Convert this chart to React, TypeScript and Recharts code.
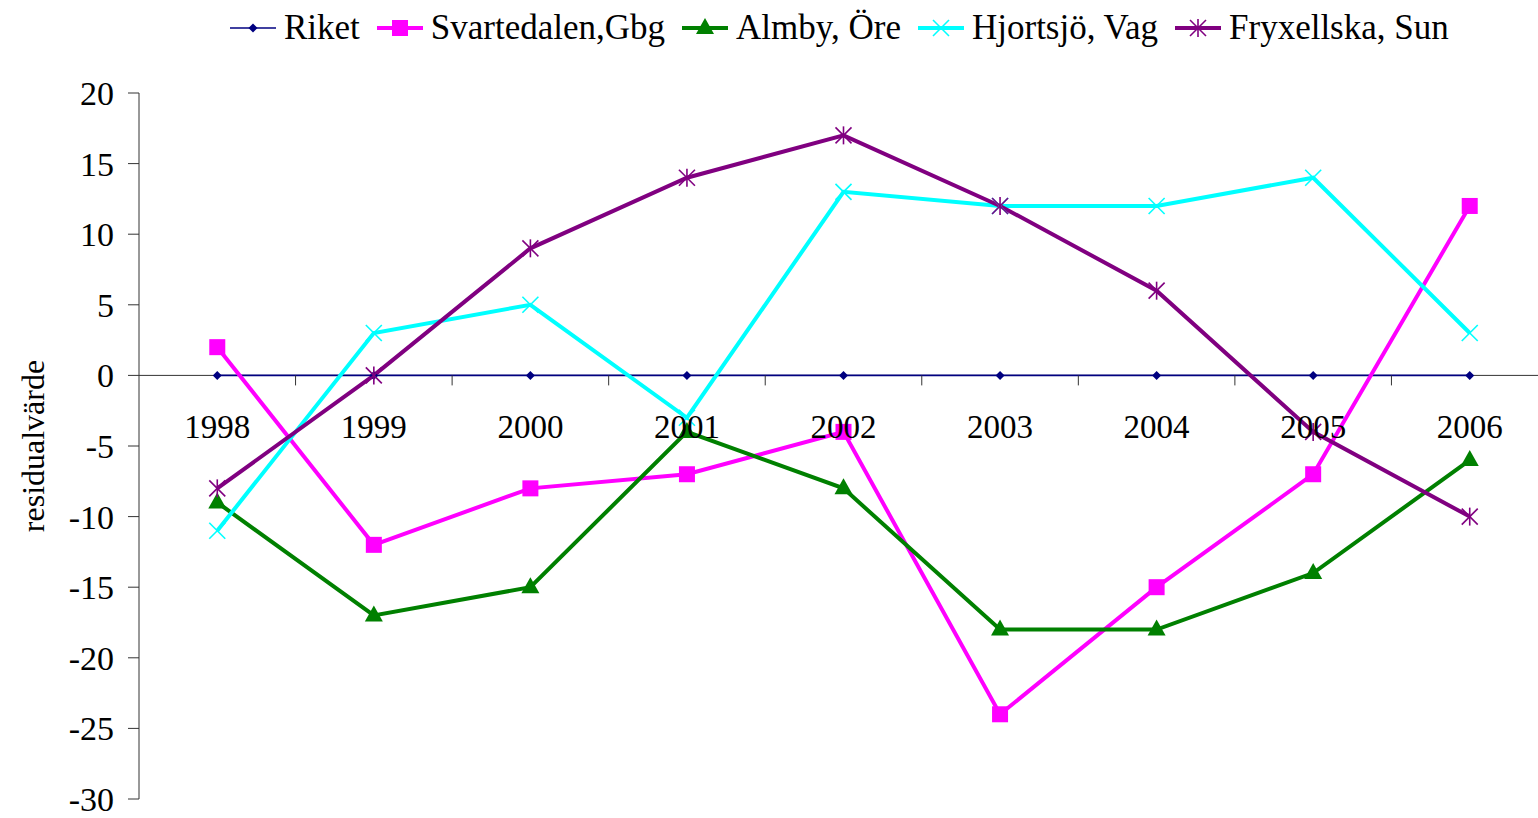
import React from "react";
import { LineChart, Line, XAxis, YAxis, ReferenceLine } from "recharts";

const YEARS = ["1998", "1999", "2000", "2001", "2002", "2003", "2004", "2005", "2006"];
const RIKET = [0, 0, 0, 0, 0, 0, 0, 0, 0];
const SVARTEDALEN = [2, -12, -8, -7, -4, -24, -15, -7, 12];
const ALMBY = [-9, -17, -15, -4, -8, -18, -18, -14, -6];
const HJORTSJO = [-11, 3, 5, -3, 13, 12, 12, 14, 3];
const FRYXELLSKA = [-8, 0, 9, 14, 17, 12, 6, -4, -10];
const Y_TICKS = [-30, -25, -20, -15, -10, -5, 0, 5, 10, 15, 20];

const FONT = "'Liberation Serif', 'Times New Roman', serif";
const W = 1560;
const H = 818;
const M = { top: 93, right: 12, bottom: 18, left: 0 };
const Y_AXIS_W = 139;
const X_AXIS_H = 1;
const Y_MIN = -30;
const Y_MAX = 20;

const data = YEARS.map((year, i) => ({
  year,
  riket: RIKET[i],
  svart: SVARTEDALEN[i],
  almby: ALMBY[i],
  hjort: HJORTSJO[i],
  fryx: FRYXELLSKA[i],
}));

type MarkerKind = "diamond" | "square" | "triangle" | "cross" | "star";

function Marker({ kind, cx, cy, color }: { kind: MarkerKind; cx: number; cy: number; color: string }) {
  if (cx == null || cy == null) return null;
  switch (kind) {
    case "diamond":
      return <path d={`M${cx},${cy - 4.5}L${cx + 4.5},${cy}L${cx},${cy + 4.5}L${cx - 4.5},${cy}Z`} fill={color} />;
    case "square":
      return <rect x={cx - 8} y={cy - 8} width={16} height={16} fill={color} />;
    case "triangle":
      return <path d={`M${cx},${cy - 10}L${cx + 9},${cy + 6}L${cx - 9},${cy + 6}Z`} fill={color} />;
    case "cross":
      return (
        <g stroke={color} strokeWidth={1.6}>
          <line x1={cx - 8} y1={cy - 8} x2={cx + 8} y2={cy + 8} />
          <line x1={cx - 8} y1={cy + 8} x2={cx + 8} y2={cy - 8} />
        </g>
      );
    case "star":
      return (
        <g stroke={color} strokeWidth={1.6}>
          <line x1={cx - 8} y1={cy - 8} x2={cx + 8} y2={cy + 8} />
          <line x1={cx - 8} y1={cy + 8} x2={cx + 8} y2={cy - 8} />
          <line x1={cx} y1={cy - 9} x2={cx} y2={cy + 9} />
        </g>
      );
  }
  return null;
}

const SERIES: { key: string; name: string; color: string; kind: MarkerKind; width: number }[] = [
  { key: "riket", name: "Riket", color: "#000080", kind: "diamond", width: 1.6 },
  { key: "svart", name: "Svartedalen,Gbg", color: "#FF00FF", kind: "square", width: 4 },
  { key: "almby", name: "Almby, Öre", color: "#008000", kind: "triangle", width: 4 },
  { key: "hjort", name: "Hjortsjö, Vag", color: "#00FFFF", kind: "cross", width: 4 },
  { key: "fryx", name: "Fryxellska, Sun", color: "#800080", kind: "star", width: 4 },
];

// x labels sit under the zero line, not at the plot bottom
const PLOT_H = H - M.top - M.bottom - X_AXIS_H;
const ZERO_UP = (PLOT_H * (0 - Y_MIN)) / (Y_MAX - Y_MIN);
const STEP = (W - M.left - M.right - Y_AXIS_W) / YEARS.length;

function YearTick(props: any) {
  const { x, payload } = props;
  const zy = M.top + PLOT_H - ZERO_UP;
  return (
    <g>
      <line x1={x + STEP / 2} y1={zy} x2={x + STEP / 2} y2={zy + 10} stroke="#333" strokeWidth={1} />
      <text x={x} y={zy + 52} textAnchor="middle" dominantBaseline="central" fontFamily={FONT} fontSize={33} fill="#000">
        {payload.value}
      </text>
    </g>
  );
}

function LegendRow() {
  return (
    <div
      style={{
        position: "absolute",
        top: 8,
        left: 230,
        display: "flex",
        alignItems: "center",
        fontFamily: FONT,
        fontSize: 35,
        color: "#000",
        whiteSpace: "nowrap",
      }}
    >
      {SERIES.map((s) => (
        <div key={s.key} style={{ display: "flex", alignItems: "center", marginRight: 17 }}>
          <svg width={46} height={24} style={{ marginRight: 8 }}>
            <line x1={0} y1={12} x2={46} y2={12} stroke={s.color} strokeWidth={s.width} />
            <Marker kind={s.kind} cx={23} cy={12} color={s.color} />
          </svg>
          <span>{s.name}</span>
        </div>
      ))}
    </div>
  );
}

export default function App() {
  return (
    <div style={{ position: "absolute", left: 0, top: 0, width: 1538, height: H, overflow: "hidden", background: "#fff" }}>
      <LineChart width={W} height={H} data={data} margin={M}>
        <XAxis
          dataKey="year"
          axisLine={false}
          tickLine={false}
          tick={<YearTick />}
          interval={0}
          height={X_AXIS_H}
          padding={{ left: STEP / 2, right: STEP / 2 }}
        />
        <YAxis
          width={Y_AXIS_W}
          domain={[Y_MIN, Y_MAX]}
          ticks={Y_TICKS}
          interval={0}
          tickSize={11}
          tickMargin={14}
          stroke="#333"
          tick={{ fontFamily: FONT, fontSize: 34, fill: "#000" }}
          label={{
            content: (p: any) => {
              const vb = p.viewBox;
              const cx = vb.x + 33;
              const cy = vb.y + vb.height / 2;
              return (
                <text x={cx} y={cy} transform={`rotate(-90 ${cx} ${cy})`} textAnchor="middle" dominantBaseline="central" fontFamily={FONT} fontSize={32} fill="#000">
                  residualvärde
                </text>
              );
            },
          }}
        />
        <ReferenceLine y={0} stroke="#333" strokeWidth={1} />
        {SERIES.map((s) => (
          <Line
            key={s.key}
            dataKey={s.key}
            name={s.name}
            stroke={s.color}
            strokeWidth={s.width}
            type="linear"
            isAnimationActive={false}
            dot={(p: any) => <Marker key={`${s.key}-${p.index}`} kind={s.kind} cx={p.cx} cy={p.cy} color={s.color} />}
            activeDot={false}
          />
        ))}
      </LineChart>
      <LegendRow />
    </div>
  );
}
